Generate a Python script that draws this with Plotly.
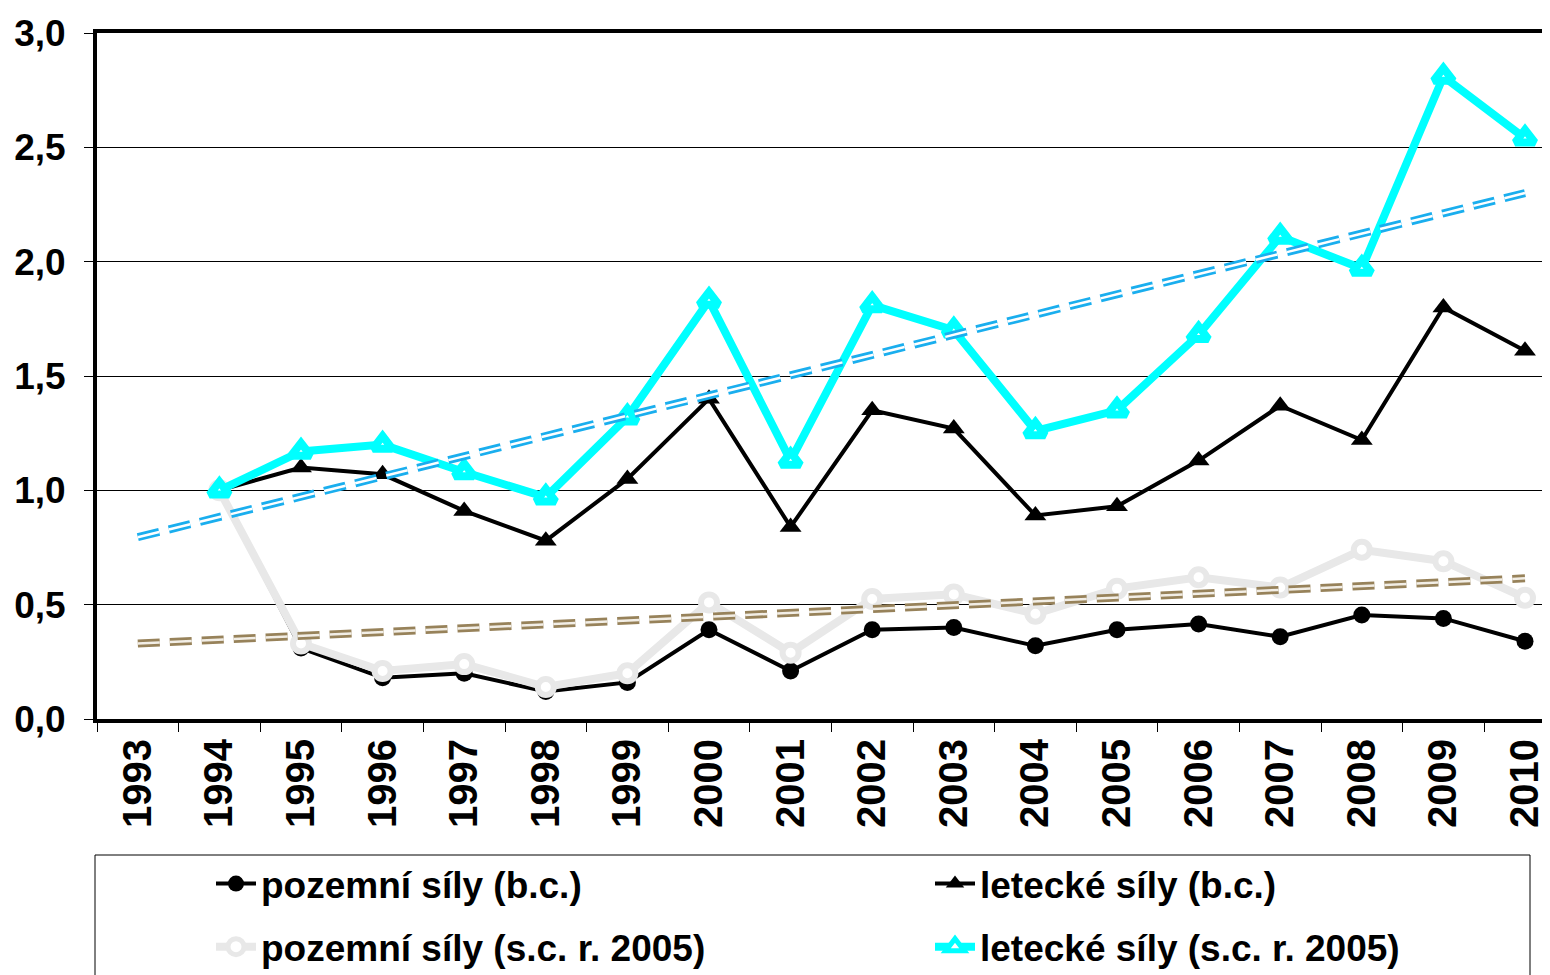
import plotly.graph_objects as go

years = [str(y) for y in range(1993, 2011)]
yrs = years[1:]  # 1994-2010

pozemni_bc = [1.00, 0.31, 0.18, 0.20, 0.12, 0.16, 0.39, 0.21, 0.39, 0.40, 0.32, 0.39, 0.415, 0.36, 0.455, 0.44, 0.34]
letecke_bc = [1.00, 1.10, 1.07, 0.91, 0.78, 1.05, 1.40, 0.84, 1.35, 1.27, 0.89, 0.93, 1.13, 1.37, 1.22, 1.80, 1.61]
pozemni_sc = [1.00, 0.33, 0.21, 0.24, 0.14, 0.20, 0.51, 0.29, 0.525, 0.545, 0.46, 0.57, 0.62, 0.575, 0.74, 0.69, 0.53]
letecke_sc = [1.00, 1.17, 1.20, 1.08, 0.97, 1.32, 1.83, 1.13, 1.81, 1.70, 1.26, 1.35, 1.68, 2.11, 1.97, 2.81, 2.54]

trend_x = ["1993", "2010"]
trend_letecke_sc = [0.795, 2.30]
trend_pozemni_sc = [0.33, 0.615]

names = ["pozemní síly (b.c.)", "letecké síly (b.c.)", "pozemní síly (s.c. r. 2005)", "letecké síly (s.c. r. 2005)"]

FONT = "Liberation Sans, Arial, sans-serif"

fig = go.Figure()
fig.add_trace(go.Scatter(x=yrs, y=pozemni_bc, name=names[0], mode="lines+markers",
                         legend="legend", legendgroup="a",
                         line=dict(color="black", width=4),
                         marker=dict(symbol="circle", size=17, color="black")))
fig.add_trace(go.Scatter(x=yrs, y=letecke_bc, name=names[1], mode="lines+markers",
                         legend="legend2", legendgroup="b",
                         line=dict(color="black", width=4),
                         marker=dict(symbol="triangle-up", size=19, color="black")))
fig.add_trace(go.Scatter(x=yrs, y=pozemni_sc, name=names[2], mode="lines+markers",
                         legend="legend", legendgroup="c",
                         line=dict(color="#E8E8E8", width=8),
                         marker=dict(symbol="circle", size=16, color="white",
                                     line=dict(color="#E8E8E8", width=6))))
fig.add_trace(go.Scatter(x=yrs, y=letecke_sc, name=names[3], mode="lines+markers",
                         legend="legend2", legendgroup="d",
                         line=dict(color="#00FFFF", width=8),
                         marker=dict(symbol="triangle-up", size=17, color="white",
                                     line=dict(color="#00FFFF", width=8))))

for tv, outer, inner in [(trend_letecke_sc, "#1AAEEE", "white"), (trend_pozemni_sc, "#97825A", "#F2EEE6")]:
    fig.add_trace(go.Scatter(x=trend_x, y=tv, mode="lines", showlegend=False, hoverinfo="skip",
                             line=dict(color=outer, width=8, dash="22px,10px")))
    fig.add_trace(go.Scatter(x=trend_x, y=tv, mode="lines", showlegend=False, hoverinfo="skip",
                             line=dict(color=inner, width=2.5, dash="22px,10px")))

OFF = 8  # page body margin offset
W, H = 1550, 975
# target screen coordinates of plot area
SL, ST, SB, SR = 97, 33, 719, 1550
L, T, B, R = SL - OFF, ST - OFF, SB - OFF, SR - OFF
pw, ph = R - L, B - T

def px_x(p):  # p: screen px
    return (p - OFF - L) / pw

def px_y(p):
    return (B - (p - OFF)) / ph

LEG_FONT = dict(family=FONT, size=37, color="black", weight="bold")
leg_common = dict(orientation="v", xanchor="left", yanchor="top", bgcolor="rgba(0,0,0,0)",
                  font=LEG_FONT, itemwidth=40, tracegroupgap=12, borderwidth=0)

fig.update_layout(
    width=W, height=H,
    margin=dict(l=L, r=W - R, t=T, b=H - B, autoexpand=False),
    paper_bgcolor="white", plot_bgcolor="white",
    separators=", ",
    font=dict(family=FONT, size=37, color="black", weight="bold"),
    showlegend=True,
    legend=dict(x=px_x(211), y=px_y(853), **leg_common),
    legend2=dict(x=px_x(930), y=px_y(853), **leg_common),
    shapes=[dict(type="rect", xref="paper", yref="paper",
                 x0=px_x(95), x1=px_x(1530), y0=px_y(855), y1=px_y(1000),
                 line=dict(color="black", width=1), fillcolor="rgba(0,0,0,0)", layer="above")],
)

fig.update_xaxes(type="category", categoryorder="array", categoryarray=years,
                 range=[-0.5, -0.5 + pw / 81.6], automargin=False,
                 showline=True, linecolor="black", linewidth=4, mirror=True,
                 ticks="outside", tickson="boundaries", ticklen=9, tickcolor="black", tickwidth=1,
                 tickangle=-90, showgrid=False,
                 tickfont=dict(family=FONT, size=40, color="black", weight="bold"))
fig.update_yaxes(range=[0, 3], dtick=0.5, tick0=0, tickformat=".1f", automargin=False,
                 showline=True, linecolor="black", linewidth=4,
                 showgrid=True, gridcolor="black", gridwidth=1, zeroline=False,
                 ticks="outside", ticklen=9, tickcolor="black", tickwidth=1,
                 ticklabelstandoff=11,
                 tickfont=dict(family=FONT, size=37, color="black", weight="bold"))

fig.write_html("out.html")
